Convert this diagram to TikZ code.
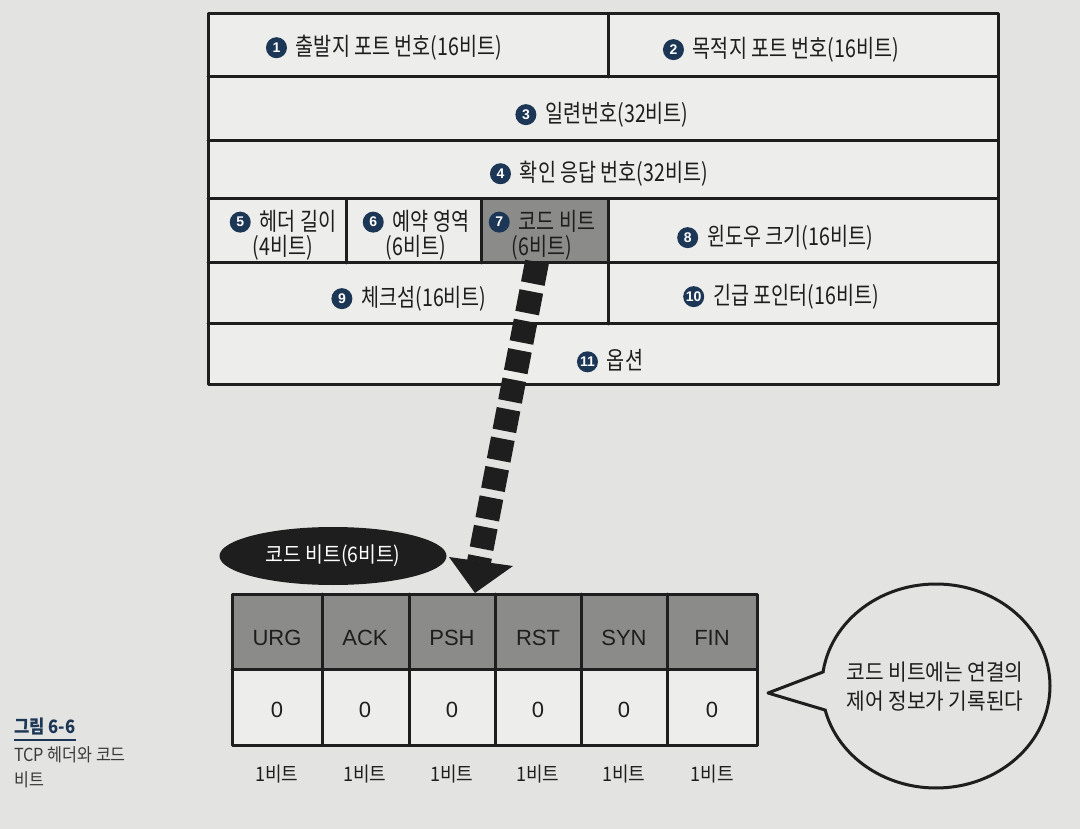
\documentclass[tikz,border=0pt]{standalone}
\usepackage{fontspec}
\setmainfont{Noto Sans CJK KR}[FakeStretch=0.9]
\newfontfamily\narrowkr{Noto Sans CJK KR}[FakeStretch=0.8]
\newfontfamily\latf{Liberation Sans}
\usetikzlibrary{shapes.geometric}
\definecolor{paper}{HTML}{E3E3E1}
\definecolor{cellc}{HTML}{EDEDEB}
\definecolor{gcell}{HTML}{8B8B89}
\definecolor{navy}{HTML}{1C3656}
\definecolor{ink}{HTML}{1E1E1E}
\definecolor{capt}{HTML}{3A3A3A}
\newcommand\cnum[1]{\tikz[baseline=-0.33em]{\fill[navy] (0,0) circle (10.5pt);\node[text=white,inner sep=0pt,font=\latf\bfseries\fontsize{14}{14}\selectfont] at (0,0) {#1};}\hspace{9pt}}
\begin{document}
\begin{tikzpicture}[x=1pt,y=-1pt,
  grid/.style={draw=ink,line width=3pt,line cap=round,line join=round},
  lbl/.style={font=\narrowkr\fontsize{24.5}{25}\selectfont,text=ink,align=center,inner sep=0pt},
  flag/.style={font=\latf\fontsize{22}{22}\selectfont,text=ink,inner sep=0pt},
  bitlbl/.style={font=\fontsize{20}{20}\selectfont,text=ink,inner sep=0pt},
  shaft/.style={draw=ink,line width=24pt,line cap=butt,dash pattern=on 22pt off 8pt}]
\fill[paper] (0,0) rectangle (1080,829);
\useasboundingbox (0,0) rectangle (1080,829);

% ---- TCP header table ----
\fill[cellc] (208,14) rectangle (998,384);
\fill[gcell] (481,199) rectangle (608,263);
\draw[grid] (208,14) rectangle (998,384);
\foreach \yy in {77,141,199,263,324} \draw[grid] (208,\yy) -- (998,\yy);
\draw[grid] (608,14) -- (608,77);
\draw[grid] (346,199) -- (346,263);
\draw[grid] (481,199) -- (481,263);
\draw[grid] (608,199) -- (608,324);

\node[lbl] (f1) at (384,48) {\cnum{1}출발지 포트 번호(16비트)};
\node[lbl] (f2) at (781,50) {\cnum{2}목적지 포트 번호(16비트)};
\node[lbl] (f3) at (602,115) {\cnum{3}일련번호(32비트)};
\node[lbl] (f4) at (599,174) {\cnum{4}확인 응답 번호(32비트)};
\node[lbl] (f5) at (283,235) {\cnum{5}헤더 길이\\(4비트)};
\node[lbl] (f6) at (416,235) {\cnum{6}예약 영역\\(6비트)};
\node[lbl] (f7) at (542,235) {\cnum{7}코드 비트\\(6비트)};
\node[lbl] (f8) at (775,238) {\cnum{8}윈도우 크기(16비트)};
\node[lbl] (f9) at (409,299) {\cnum{9}체크섬(16비트)};
\node[lbl] (f10) at (781,297) {\cnum{10}긴급 포인터(16비트)};
\node[lbl] (f11) at (610,361) {\cnum{11}옵션};

% ---- code bit table ----
\fill[gcell] (232,594) rectangle (757,669);
\fill[cellc] (232,669) rectangle (757,745);
\draw[grid] (232,594) rectangle (757,745);
\draw[grid] (232,669) -- (757,669);
\foreach \xx in {322,409,495,581,667} \draw[grid] (\xx,594) -- (\xx,745);

\foreach \nm/\cx/\tx in {urg/277/URG,ack/365/ACK,psh/452/PSH,rst/538/RST,syn/624/SYN,fin/712/FIN}{
  \node[flag] (h\nm) at (\cx,638) {\tx};
  \node[flag] (v\nm) at (\cx,710) {0};
  \node[bitlbl] (b\nm) at (\cx,774) {1비트};
}

% ---- dashed arrow from code bit field ----
\coordinate (arrS) at (537,262);
\coordinate (arrE) at (479,562);
\coordinate (tip) at (475,593);
\coordinate (wl) at (449,557);
\coordinate (wr) at (513,566);
\draw[shaft] (arrS) -- (arrE);
\fill[ink] (wl) -- (tip) -- (wr) -- cycle;

% ---- label ellipse ----
\node[ellipse,fill=ink,minimum width=227pt,minimum height=58pt,inner sep=0pt,
  text=white,font=\fontsize{21.5}{21.5}\selectfont] (cb) at (333,556) {코드 비트(6비트)};

% ---- speech bubble ----
\node[ellipse,draw=ink,line width=3pt,fill=paper,minimum width=228pt,minimum height=204pt,inner sep=0pt] (bub) at (936,686) {};
\coordinate (t1) at (823,672);
\coordinate (t2) at (768,693);
\coordinate (t3) at (825,710);
\fill[paper] (t1) -- (t2) -- (t3) -- (842,691) -- cycle;
\draw[grid] (t1) -- (t2) -- (t3);
\node[align=center,inner sep=0pt,text=ink,font=\fontsize{22.5}{29}\selectfont] (btxt) at (935,687) {코드 비트에는 연결의\\제어 정보가 기록된다};

% ---- caption ----
\node[anchor=west,inner sep=0pt,text=navy,font=\bfseries\fontsize{18.5}{18.5}\selectfont] (cap1) at (14,726) {그림 6-6};
\draw[navy,line width=2.5pt] (14,740) -- (76,740);
\node[anchor=north west,inner sep=0pt,align=left,text=capt,font=\fontsize{18}{25}\selectfont] (cap2) at (14,746) {TCP 헤더와 코드\\비트};
\end{tikzpicture}
\end{document}
